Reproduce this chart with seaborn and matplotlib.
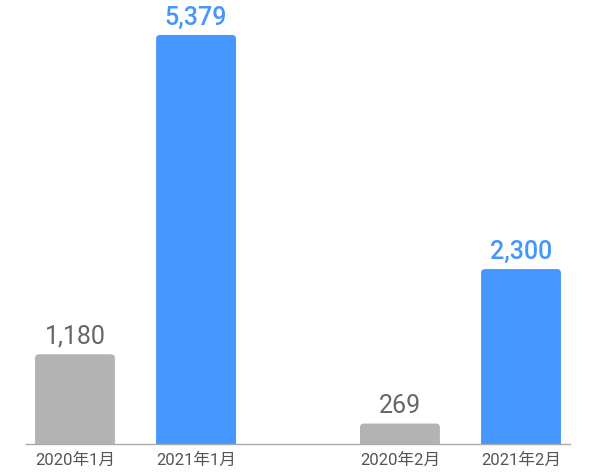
import pandas as pd
import matplotlib.pyplot as plt
import seaborn as sns
from matplotlib.patches import FancyBboxPatch

sns.set_style("white")
plt.rcParams['font.family'] = ['Roboto', 'Noto Sans CJK SC', 'DejaVu Sans']

months = ["1月", "1月", "2月", "2月"]
years = ["2020", "2021", "2020", "2021"]
values = [1180, 5379, 269, 2300]
labels = ["2020年1月", "2021年1月", "2020年2月", "2021年2月"]

df = pd.DataFrame({"month": months, "year": years, "value": values})
colors = {"2020": "#b3b3b3", "2021": "#4596ff"}
text_colors = {"2020": "#666666", "2021": "#4596ff"}

fig = plt.figure(figsize=(6, 4.76), dpi=100)
ax = fig.add_axes([26 / 600, 32 / 476, 544 / 600, 444 / 476])
sns.barplot(data=df, x="month", y="value", hue="year", palette=colors,
            width=0.745, gap=0.34, legend=False, ax=ax)
ax.set_xlim(-0.337, 1.337)
ax.set_ylim(0, 5839)

# rounded top corners
rad = 0.0123
aspect = 52.6 / 0.0123
ticks = []
bars = [p for p in ax.patches if p.get_height() > 0]
bars.sort(key=lambda p: p.get_x())
for p, yr, v in zip(bars, years, values):
    x, w, h = p.get_x(), p.get_width(), p.get_height()
    p.set_visible(False)
    rp = FancyBboxPatch((x + rad, -200), w - 2 * rad, h + 200 - rad * aspect,
                        boxstyle=f"round,pad={rad}", mutation_aspect=aspect,
                        fc=colors[yr], ec="none", zorder=2)
    ax.add_patch(rp)
    ticks.append(x + w / 2)
    ax.annotate(f"{v:,}", (x + w / 2, h), xytext=(0, 4), textcoords="offset points",
                ha="center", va="bottom", fontsize=18, color=text_colors[yr],
                fontweight="medium" if yr == "2021" else "normal")

ax.set_xticks(ticks)
ax.set_xticklabels(labels, fontsize=12, color="#555555")
ax.tick_params(axis="x", length=0, pad=6)
ax.set_yticks([])
ax.set_xlabel("")
ax.set_ylabel("")
sns.despine(ax=ax, left=True)
ax.spines["bottom"].set_color("#aaaaaa")
ax.spines["bottom"].set_linewidth(1)
ax.set_facecolor("none")

fig.savefig("out.png", dpi=100)
